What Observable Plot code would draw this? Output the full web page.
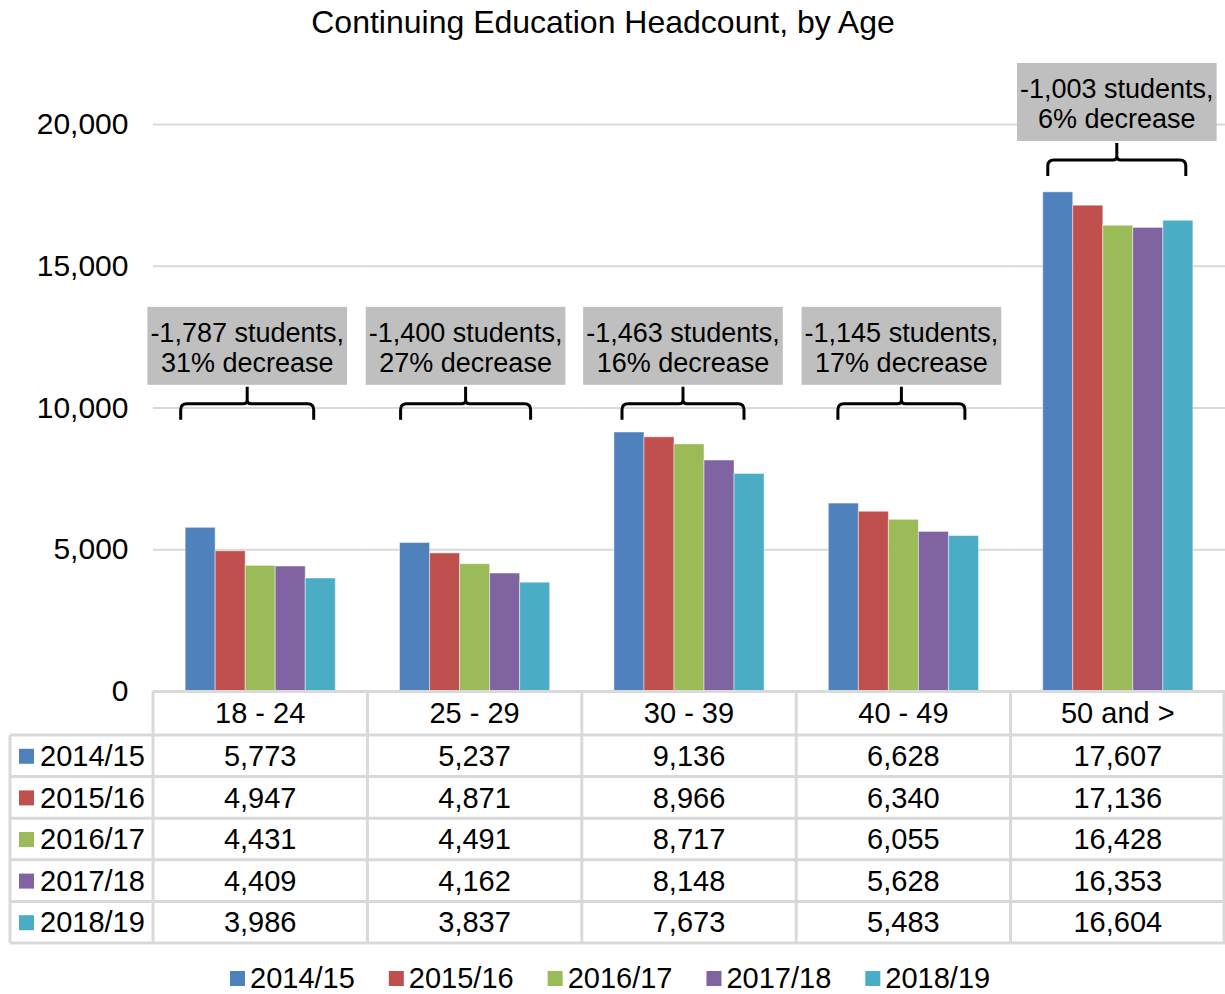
<!DOCTYPE html>
<html>
<head>
<meta charset="utf-8">
<script src="https://cdn.jsdelivr.net/npm/d3@7"></script>
<script src="https://cdn.jsdelivr.net/npm/@observablehq/plot@0.6"></script>
<style>
  body { margin: 0; background: #fff; }
  svg { display: block; }
</style>
</head>
<body>
<div id="chart"></div>
<script>
// ---------- data ----------
const title = "Continuing Education Headcount, by Age";
const ageGroups = ["18 - 24", "25 - 29", "30 - 39", "40 - 49", "50 and >"];
const years = ["2014/15", "2015/16", "2016/17", "2017/18", "2018/19"];
const v2014_15 = [5773, 5237, 9136, 6628, 17607];
const v2015_16 = [4947, 4871, 8966, 6340, 17136];
const v2016_17 = [4431, 4491, 8717, 6055, 16428];
const v2017_18 = [4409, 4162, 8148, 5628, 16353];
const v2018_19 = [3986, 3837, 7673, 5483, 16604];
const yTicks = [0, 5000, 10000, 15000, 20000];
const changeStudents = ["-1,787 students,", "-1,400 students,", "-1,463 students,", "-1,145 students,", "-1,003 students,"];
const changePercent = ["31% decrease", "27% decrease", "16% decrease", "17% decrease", "6% decrease"];

// ---------- styles / layout ----------
const seriesColors = ["#4F81BD", "#C0504D", "#9BBB59", "#8064A2", "#4BACC6"];
const FONT = "'Liberation Sans', Arial, Helvetica, sans-serif";
const gridColor = "#d9d9d9";
const annotBoxBottom = [10800, 10800, 10800, 10800, 19400]; // y-level (data units) of box bottoms
const annotOffset = [-13, -9, -6, -2, -1];
const braceWidth = [133, 130, 122, 127, 138];

const seriesValues = [v2014_15, v2015_16, v2016_17, v2017_18, v2018_19];
const rows = [];
years.forEach((yr, i) => ageGroups.forEach((g, j) => rows.push({year: yr, group: g, value: seriesValues[i][j]})));

const chart = Plot.plot({
  width: 1225,
  height: 994,
  marginLeft: 153,
  marginRight: 0,
  marginTop: 124,
  marginBottom: 303,
  style: {fontFamily: FONT, fontSize: "29px", color: "#000", background: "#fff", overflow: "visible"},
  fx: {domain: ageGroups, padding: 0, round: false, axis: null, label: null},
  x: {domain: years, paddingInner: 0, paddingOuter: 1.07, round: false, axis: null, label: null},
  y: {domain: [0, 20000], label: null},
  color: {domain: years, range: seriesColors},
  marks: [
    Plot.gridY(yTicks, {stroke: gridColor, strokeOpacity: 1, strokeWidth: 2}),
    Plot.barY(rows, {fx: "group", x: "year", y: "value", fill: "year", stroke: "#fff", strokeOpacity: 0.45, strokeWidth: 1}),
    Plot.ruleY([0], {stroke: gridColor, strokeWidth: 3}),
    Plot.axisY(yTicks, {tickSize: 0, tickPadding: 25, tickFormat: d3.format(","), fontSize: 30, label: null})
  ]
});
document.getElementById("chart").appendChild(chart);

// ---------- extras drawn with Plot's scales ----------
const svg = d3.select(chart);
const fx = chart.scale("fx");
const ys = chart.scale("y");
const bw = fx.bandwidth;
const bandLeft = g => fx.apply(g);
const plotRight = bandLeft(ageGroups[ageGroups.length - 1]) + bw;
const fmt = d3.format(",");

// title
svg.append("text")
  .attr("x", 603).attr("y", 33)
  .attr("text-anchor", "middle")
  .attr("font-family", FONT).attr("font-size", 32).attr("fill", "#000")
  .text(title);

// data table
const tableTop = ys.apply(0);
const headerBottom = tableTop + 44;
const rowH = 41.6;
const tableBottom = headerBottom + rowH * years.length;
const tableLeft = 10;
const tbl = svg.append("g").attr("stroke", gridColor).attr("stroke-width", 3).attr("fill", "none");
for (let k = 0; k <= years.length; k++) {
  const yy = headerBottom + k * rowH;
  tbl.append("line").attr("x1", tableLeft).attr("x2", plotRight).attr("y1", yy).attr("y2", yy);
}
tbl.append("line").attr("x1", tableLeft).attr("x2", tableLeft).attr("y1", headerBottom).attr("y2", tableBottom);
ageGroups.forEach((g) => {
  const xl = bandLeft(g);
  tbl.append("line").attr("x1", xl).attr("x2", xl).attr("y1", tableTop).attr("y2", tableBottom);
});
tbl.append("line").attr("x1", plotRight - 1).attr("x2", plotRight - 1).attr("y1", tableTop).attr("y2", tableBottom);

const txt = svg.append("g").attr("font-family", FONT).attr("font-size", 29).attr("fill", "#000");
ageGroups.forEach((g, j) => {
  const cx = bandLeft(g) + bw / 2;
  txt.append("text").attr("x", cx).attr("y", (tableTop + headerBottom) / 2).attr("dy", "0.35em")
    .attr("text-anchor", "middle").text(g);
  years.forEach((yr, i) => {
    txt.append("text").attr("x", cx).attr("y", headerBottom + (i + 0.5) * rowH).attr("dy", "0.35em")
      .attr("text-anchor", "middle").text(fmt(seriesValues[i][j]));
  });
});
years.forEach((yr, i) => {
  const cy = headerBottom + (i + 0.5) * rowH;
  svg.append("rect").attr("x", 19).attr("y", cy - 7).attr("width", 15).attr("height", 15).attr("fill", seriesColors[i]);
  txt.append("text").attr("x", 40).attr("y", cy).attr("dy", "0.35em").attr("text-anchor", "start").text(yr);
});

// annotations (boxes + braces)
const ann = svg.append("g");
ageGroups.forEach((g, j) => {
  const cx = bandLeft(g) + bw / 2 + annotOffset[j];
  const bottom = ys.apply(annotBoxBottom[j]);
  const top = bottom - 78;
  const box = ann.append("rect").attr("fill", "#bfbfbf");
  const t1 = ann.append("text").attr("x", cx).attr("y", top + 26).attr("dy", "0.35em")
    .attr("text-anchor", "middle").attr("font-family", FONT).attr("font-size", 27).text(changeStudents[j]);
  const t2 = ann.append("text").attr("x", cx).attr("y", top + 56).attr("dy", "0.35em")
    .attr("text-anchor", "middle").attr("font-family", FONT).attr("font-size", 27).text(changePercent[j]);
  const w = Math.max(t1.node().getComputedTextLength(), t2.node().getComputedTextLength()) + 6;
  box.attr("x", cx - w / 2).attr("y", top).attr("width", w).attr("height", 78);
  // brace
  const hw = braceWidth[j] / 2;
  const bt = bottom + 2, mid = bt + 17, bot = mid + 16, r = 6;
  const p = `M${cx - hw},${bot} V${mid + r} Q${cx - hw},${mid} ${cx - hw + r},${mid} H${cx - 4} Q${cx},${mid} ${cx},${mid - 4} V${bt}` +
            ` M${cx},${mid - 4} Q${cx},${mid} ${cx + 4},${mid} H${cx + hw - r} Q${cx + hw},${mid} ${cx + hw},${mid + r} V${bot}`;
  ann.append("path").attr("d", p).attr("fill", "none").attr("stroke", "#000").attr("stroke-width", 3);
});

// legend
const leg = svg.append("g").attr("font-family", FONT).attr("font-size", 29).attr("text-anchor", "start");
const legY = 978;
let lx = 230;
years.forEach((yr, i) => {
  leg.append("rect").attr("x", lx).attr("y", legY - 7).attr("width", 15).attr("height", 15).attr("fill", seriesColors[i]);
  const t = leg.append("text").attr("x", lx + 20).attr("y", legY).attr("dy", "0.35em").attr("text-anchor", "start").text(yr);
  lx += 20 + t.node().getComputedTextLength() + 34;
});
</script>
</body>
</html>
